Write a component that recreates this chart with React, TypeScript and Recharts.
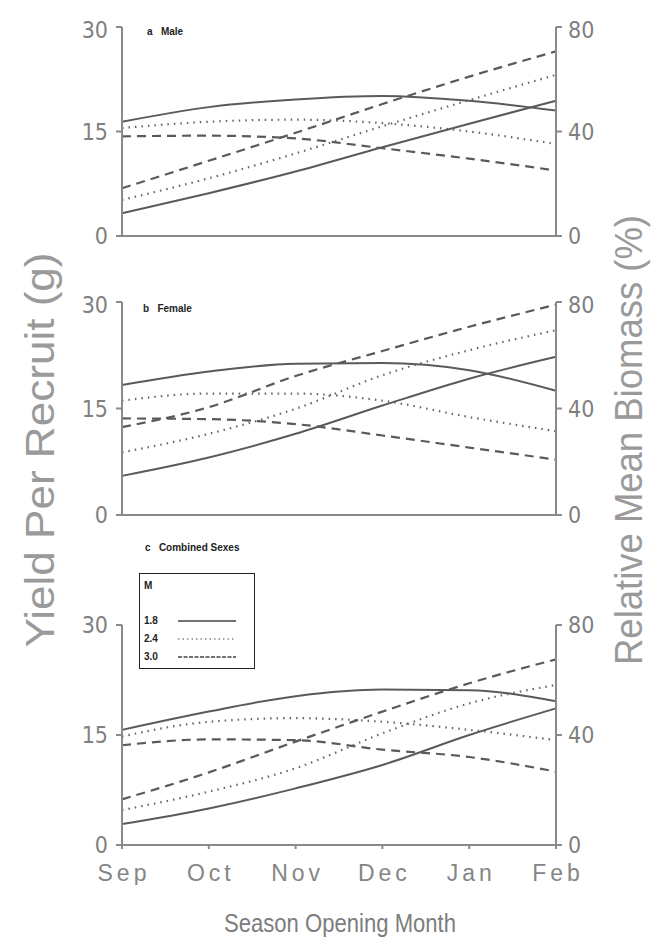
import { LineChart, Line, XAxis, YAxis, Legend } from "recharts"

const months = ["Sep", "Oct", "Nov", "Dec", "Jan", "Feb"]
const mLevels = ["1.8", "2.4", "3.0"]
const yieldTicks = [0, 15, 30]
const biomassTicks = [0, 40, 80]

// yield per recruit (g), left axis
const maleYield18 = [16.4, 18.5, 19.6, 20.1, 19.4, 18.0]
const maleYield24 = [15.5, 16.4, 16.7, 16.2, 15.0, 13.2]
const maleYield30 = [14.3, 14.4, 14.0, 12.6, 11.1, 9.4]
// relative mean biomass (%), right axis
const maleBio18 = [8.7, 16.4, 24.7, 34.0, 43.0, 51.8]
const maleBio24 = [13.8, 22.1, 31.6, 42.0, 52.0, 61.7]
const maleBio30 = [18.3, 28.8, 39.5, 50.5, 61.0, 70.7]

const femaleYield18 = [18.3, 20.2, 21.3, 21.4, 20.4, 17.5]
const femaleYield24 = [16.1, 17.1, 17.1, 16.1, 13.8, 11.8]
const femaleYield30 = [13.6, 13.5, 12.8, 11.2, 9.5, 7.8]
const femaleBio18 = [14.7, 21.6, 30.5, 41.1, 51.2, 59.4]
const femaleBio24 = [23.5, 30.5, 39.9, 52.5, 61.9, 69.4]
const femaleBio30 = [33.0, 40.5, 52.2, 61.6, 70.7, 79.0]

const combYield18 = [15.7, 18.2, 20.3, 21.2, 21.1, 19.6]
const combYield24 = [14.8, 16.8, 17.3, 16.8, 15.7, 14.3]
const combYield30 = [13.6, 14.4, 14.3, 13.0, 12.0, 10.0]
const combBio18 = [7.6, 13.3, 20.6, 29.1, 40.0, 49.7]
const combBio24 = [12.7, 19.4, 27.9, 40.6, 51.5, 58.2]
const combBio30 = [16.6, 26.4, 37.6, 48.5, 58.8, 67.5]

const LINE_STYLES = [
  { dash: undefined, width: 2, color: "#5a5a5a" },
  { dash: "1.5 5", width: 2.2, color: "#666" },
  { dash: "9 6", width: 2.2, color: "#5a5a5a" },
]

const TICK_FONT = "'Liberation Sans Narrow', 'DejaVu Sans Condensed', 'Liberation Sans', sans-serif"
const SANS = "'Liberation Sans', Arial, sans-serif"
const AXIS_COLOR = "#8a8a8a"
const PLOT_LEFT = 122
const PLOT_RIGHT = 556
const YAXIS_W = 40

function buildRows(y: number[][], b: number[][]) {
  return months.map((month, i) => ({
    month,
    y18: y[0][i],
    y24: y[1][i],
    y30: y[2][i],
    b18: b[0][i],
    b24: b[1][i],
    b30: b[2][i],
  }))
}

const maleRows = buildRows([maleYield18, maleYield24, maleYield30], [maleBio18, maleBio24, maleBio30])
const femaleRows = buildRows([femaleYield18, femaleYield24, femaleYield30], [femaleBio18, femaleBio24, femaleBio30])
const combRows = buildRows([combYield18, combYield24, combYield30], [combBio18, combBio24, combBio30])

// spaced-out month labels, like the wide face of the original
function MonthTick(props: any) {
  const { x, y, payload } = props
  return (
    <text
      x={x + 2}
      y={y + 30}
      textAnchor="middle"
      fill="#858585"
      fontSize={23}
      letterSpacing={4}
      fontFamily={SANS}
    >
      {payload.value}
    </text>
  )
}

function LegendBox() {
  return (
    <div
      style={{
        width: 114,
        height: 94,
        border: "1.5px solid #222",
        background: "#fff",
        fontFamily: SANS,
        fontWeight: 700,
        fontSize: 10,
        color: "#222",
        position: "relative",
      }}
    >
      <div style={{ position: "absolute", left: 4, top: 6 }}>M</div>
      {mLevels.map((m, i) => (
        <div key={m} style={{ position: "absolute", left: 4, top: 41 + i * 18, display: "flex", alignItems: "center" }}>
          <span style={{ width: 32 }}>{m}</span>
          <svg width={62} height={8}>
            <line
              x1={2}
              y1={4}
              x2={60}
              y2={4}
              stroke={i === 1 ? "#888" : "#444"}
              strokeWidth={1.5}
              strokeDasharray={i === 1 ? "1.5 3" : i === 2 ? "4 1.5" : undefined}
            />
          </svg>
        </div>
      ))}
    </div>
  )
}

type PanelProps = {
  rows: ReturnType<typeof buildRows>
  top: number
  plotHeight: number
  marginTop: number
  showMonths?: boolean
  showLegend?: boolean
}

function Panel({ rows, top, plotHeight, marginTop, showMonths, showLegend }: PanelProps) {
  const xHeight = showMonths ? 40 : 16
  const height = marginTop + plotHeight + xHeight
  const keys = ["18", "24", "30"]
  return (
    <div style={{ position: "absolute", left: 0, top }}>
      <LineChart
        width={662}
        height={height}
        data={rows}
        margin={{ top: marginTop, bottom: 0, left: PLOT_LEFT - YAXIS_W, right: 662 - PLOT_RIGHT - YAXIS_W }}
      >
        <XAxis
          dataKey="month"
          interval={0}
          height={xHeight}
          stroke={AXIS_COLOR}
          strokeWidth={2}
          tickSize={4}
          tick={showMonths ? <MonthTick /> : false}
        />
        <YAxis
          yAxisId="y"
          domain={[0, 30]}
          ticks={yieldTicks}
          width={YAXIS_W}
          stroke={AXIS_COLOR}
          strokeWidth={2}
          tickSize={6}
          tickMargin={8}
          tick={{ fill: "#808080", fontSize: 23, fontFamily: TICK_FONT }}
        />
        <YAxis
          yAxisId="b"
          orientation="right"
          domain={[0, 80]}
          ticks={biomassTicks}
          width={YAXIS_W}
          stroke={AXIS_COLOR}
          strokeWidth={2}
          tickSize={6}
          tickMargin={6}
          tick={{ fill: "#808080", fontSize: 23, fontFamily: TICK_FONT }}
        />
        {keys.map((k, i) => (
          <Line
            key={"y" + k}
            yAxisId="y"
            dataKey={"y" + k}
            type="monotone"
            stroke={LINE_STYLES[i].color}
            strokeWidth={LINE_STYLES[i].width}
            strokeDasharray={LINE_STYLES[i].dash}
            dot={false}
            activeDot={false}
            legendType="none"
            isAnimationActive={false}
          />
        ))}
        {keys.map((k, i) => (
          <Line
            key={"b" + k}
            yAxisId="b"
            dataKey={"b" + k}
            type="monotone"
            stroke={LINE_STYLES[i].color}
            strokeWidth={LINE_STYLES[i].width}
            strokeDasharray={LINE_STYLES[i].dash}
            dot={false}
            activeDot={false}
            legendType="none"
            isAnimationActive={false}
          />
        ))}
        {showLegend && (
          <Legend
            layout="vertical"
            align="center"
            verticalAlign="middle"
            content={() => <LegendBox />}
            wrapperStyle={{ left: 139, top: 13, width: 117, height: 97 }}
          />
        )}
      </LineChart>
    </div>
  )
}

const panelTag: React.CSSProperties = {
  position: "absolute",
  fontFamily: SANS,
  fontWeight: 700,
  fontSize: 10,
  color: "#222",
  whiteSpace: "pre",
}

export default function App() {
  return (
    <div style={{ position: "absolute", left: 0, top: 0, width: 662, height: 940, background: "#fff", overflow: "hidden" }}>
      <Panel rows={maleRows} top={17} marginTop={10} plotHeight={209} />
      <Panel rows={femaleRows} top={292} marginTop={10} plotHeight={213} />
      <Panel rows={combRows} top={560} marginTop={65} plotHeight={220} showMonths showLegend />

      <div style={{ ...panelTag, left: 147, top: 26 }}>{"a   Male"}</div>
      <div style={{ ...panelTag, left: 143, top: 303 }}>{"b   Female"}</div>
      <div style={{ ...panelTag, left: 145, top: 542 }}>{"c   Combined Sexes"}</div>

      <svg width={662} height={940} style={{ position: "absolute", left: 0, top: 0, pointerEvents: "none" }}>
        <text
          x={0}
          y={0}
          transform="translate(54 450) rotate(-90)"
          textAnchor="middle"
          fontFamily={SANS}
          fontSize={40}
          fill="#9a9a9a"
          textLength={395}
          lengthAdjust="spacingAndGlyphs"
        >
          Yield Per Recruit (g)
        </text>
        <text
          x={0}
          y={0}
          transform="translate(642 440) rotate(-90)"
          textAnchor="middle"
          fontFamily={SANS}
          fontSize={38}
          fill="#9a9a9a"
          textLength={450}
          lengthAdjust="spacingAndGlyphs"
        >
          Relative Mean Biomass (%)
        </text>
        <text
          x={340}
          y={932}
          textAnchor="middle"
          fontFamily={SANS}
          fontSize={26}
          fill="#7d7d7d"
          textLength={232}
          lengthAdjust="spacingAndGlyphs"
        >
          Season Opening Month
        </text>
      </svg>
    </div>
  )
}
